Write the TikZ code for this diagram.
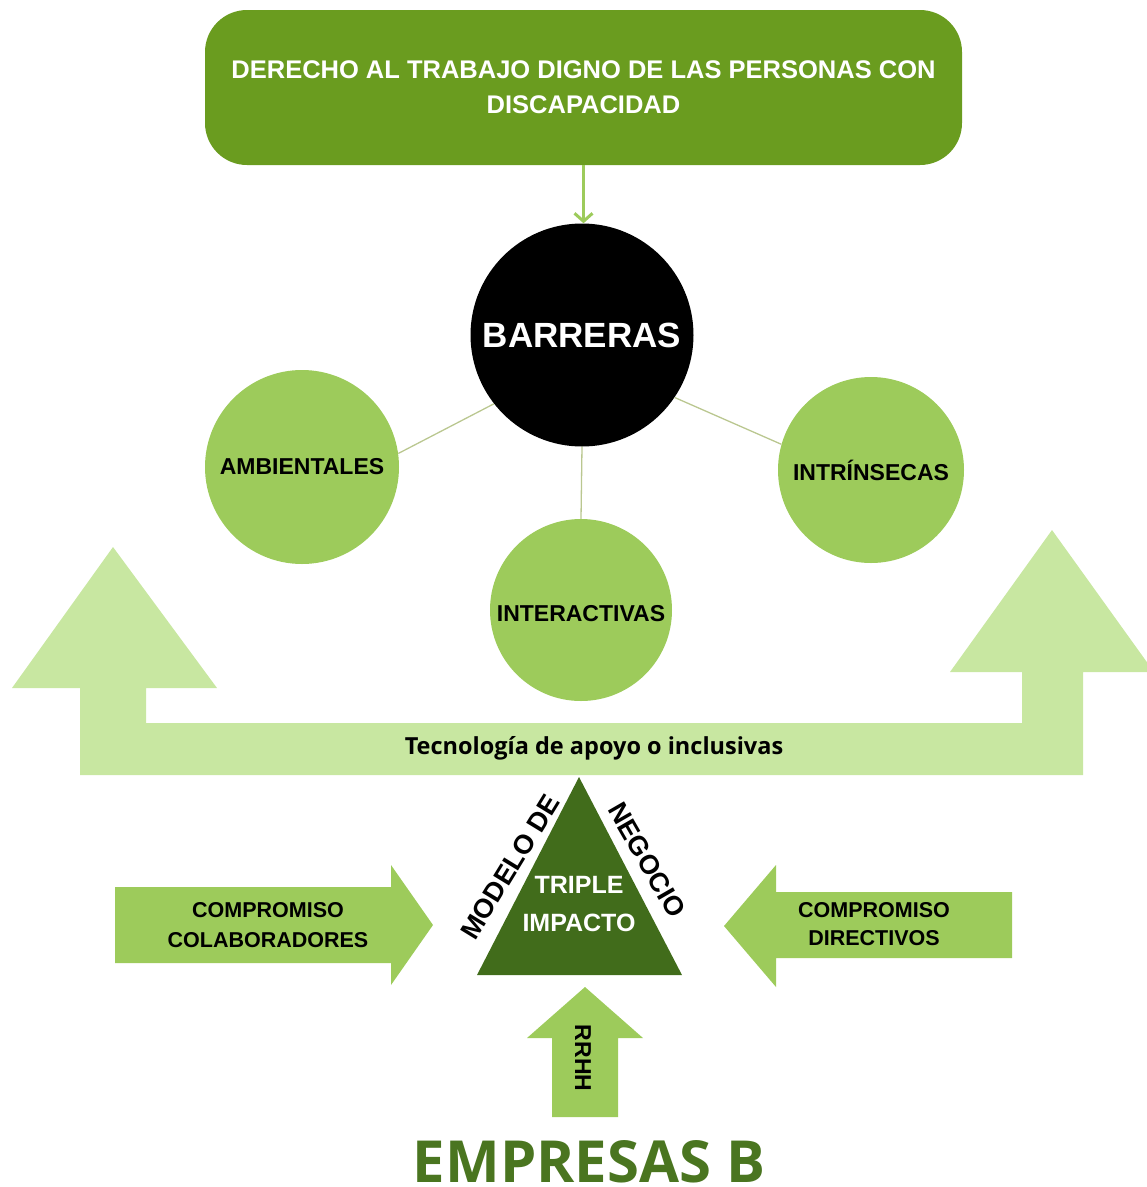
\documentclass[tikz,border=0pt]{standalone}
\usepackage{fontspec}
\setmainfont{Liberation Sans}
\newfontfamily\opensans{Open Sans}
\usepackage{tikz}
\usetikzlibrary{arrows.meta}

\definecolor{verdeBanner}{HTML}{6A9C1F}
\definecolor{verdeCirc}{HTML}{9DCB5B}
\definecolor{verdeClaro}{HTML}{C8E7A1}
\definecolor{verdeTri}{HTML}{416C1B}
\definecolor{verdeTitulo}{HTML}{4A7520}
\definecolor{lineaGris}{HTML}{BAC790}

\begin{document}
\begin{tikzpicture}[x=1pt,y=-1pt,
	circ/.style={circle, fill=verdeCirc, inner sep=0pt},
	etiq/.style={font=\fontsize{23}{27}\selectfont\bfseries, align=center},
	flecha/.style={fill=verdeCirc}]
	\useasboundingbox (0,0) rectangle (1147,1187);
	% banner and barreras
	\node[fill=verdeBanner, rounded corners=42pt, minimum width=757pt, minimum height=155pt, text=white, align=center, font=\fontsize{25.5}{35}\selectfont\bfseries] (derecho) at (583.5,87.5) {DERECHO AL TRABAJO DIGNO DE LAS PERSONAS CON\\DISCAPACIDAD};
	\node[circle, fill=black, minimum size=223pt, inner sep=0pt, text=white, font=\fontsize{35}{40}\selectfont\bfseries] (barreras) at (582,335) {BARRERAS};
	\node[circ, minimum size=194pt] (ambient) at (302,467) {};
	\node[circ, minimum size=186pt] (intrin) at (871,470) {};
	\node[circ, minimum size=182pt] (interac) at (581,610) {};
	\node[etiq] (tambient) at (302,467) {AMBIENTALES};
	\node[etiq] (tintrin) at (871,470) {INTR\'INSECAS};
	\node[etiq] (tinterac) at (581,614) {INTERACTIVAS};
	\draw[verdeCirc, line width=3pt, -{Straight Barb[length=8pt,width=18pt]}] (derecho.south) -- (derecho.south |- barreras.north);
	\draw[lineaGris, line width=1.3pt] (barreras.218) -- (ambient.8);
	\draw[lineaGris, line width=1.3pt] (barreras.326) -- (intrin.164);
	\draw[lineaGris, line width=1.3pt] (barreras.south) -- (interac.north);
	% big U arrow
	\fill[verdeClaro] (80,775) -- (80,688) -- (12,688) -- (113,547) -- (217,688) -- (146,688) -- (146,723)
		-- (1022,723) -- (1022,672) -- (950,672) -- (1052,530) -- (1154,672) -- (1083,672) -- (1083,775) -- cycle;
	\node[font=\opensans\fontsize{23.5}{26}\selectfont\bfseries] (tecno) at (594,748) {Tecnolog\'ia de apoyo o inclusivas};
	% triangle and the three arrows
	\fill[verdeTri] (477,975) -- (579,777) -- (682,975) -- cycle;
	\node[etiq, text=white, font=\fontsize{25}{38}\selectfont\bfseries] (triple) at (579,904) {TRIPLE\\IMPACTO};
	\node[inner sep=0pt, font=\fontsize{27}{30}\selectfont\bfseries, rotate=58.5] (modelo) at (510,867) {MODELO DE};
	\node[inner sep=0pt, font=\fontsize{27}{30}\selectfont\bfseries, rotate=-60] (negocio) at (647,860) {NEGOCIO};
	\fill[flecha] (115,887) -- (391,887) -- (391,865) -- (433,925) -- (391,985) -- (391,963) -- (115,963) -- cycle;
	\fill[flecha] (1012,892) -- (776,892) -- (776,865) -- (724,926) -- (776,987) -- (776,958) -- (1012,958) -- cycle;
	\fill[flecha] (552,1117) -- (552,1038) -- (527,1038) -- (585,987) -- (643,1038) -- (618,1038) -- (618,1117) -- cycle;
	\node[etiq, font=\fontsize{21.5}{30}\selectfont\bfseries] (colab) at (268,925) {COMPROMISO\\COLABORADORES};
	\node[etiq, font=\fontsize{21.5}{28}\selectfont\bfseries] (direct) at (874,924) {COMPROMISO\\DIRECTIVOS};
	\node[etiq, rotate=-90] (rrhh) at (583,1058) {RRHH};
	\node[inner sep=0pt, text=verdeTitulo, font=\opensans\fontsize{58}{64}\selectfont\bfseries] (empresas) at (589,1162) {EMPRESAS B};
\end{tikzpicture}
\end{document}
